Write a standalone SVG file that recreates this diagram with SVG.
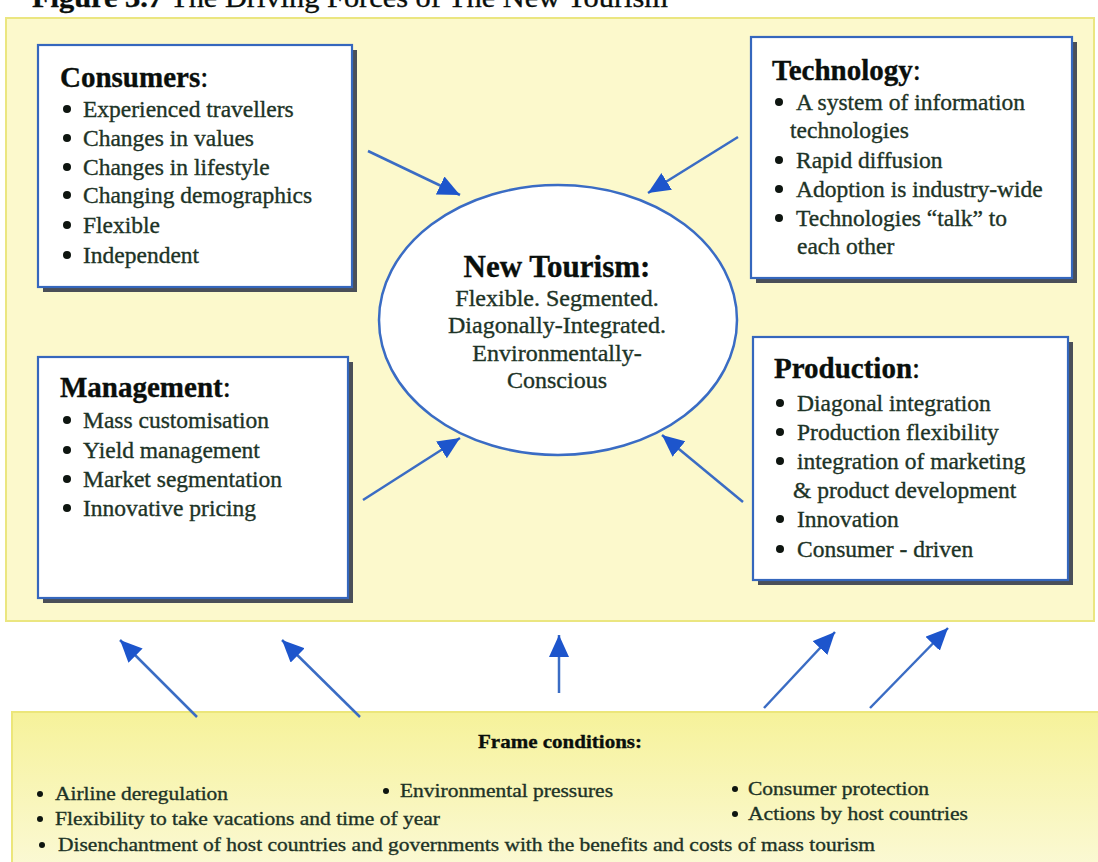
<svg xmlns="http://www.w3.org/2000/svg" width="1098" height="862" viewBox="0 0 1098 862">
<defs>
<style>
text{font-family:"Liberation Serif","Times New Roman",serif;fill:#1d3326;stroke:#1d3326;stroke-width:0.35}
.h{font-weight:bold;font-size:29px;fill:#0a0f0c;stroke:#0a0f0c}
.b{font-size:23.5px}
.e{font-size:24px;text-anchor:middle}
.f{font-size:19px}
.dot{fill:#0e1510}
.box{fill:#ffffff;stroke:#3567bd;stroke-width:2.2}
.sh{fill:#4a4f58}
.con{stroke:#3a6cc4;stroke-width:2.5;fill:none;marker-end:url(#ah)}
</style>
<marker id="ah" markerUnits="userSpaceOnUse" markerWidth="24" markerHeight="22" refX="22" refY="10" orient="auto">
<path d="M0,0 L22,10 L0,20 Z" fill="#1d55cc"/>
</marker>
<linearGradient id="fg" x1="0" y1="0" x2="0" y2="1">
<stop offset="0" stop-color="#f6f29a"/>
<stop offset="1" stop-color="#fbf9d6"/>
</linearGradient>
</defs>
<rect width="1098" height="862" fill="#ffffff"/>
<text x="32" y="7" font-size="27" textLength="636" lengthAdjust="spacingAndGlyphs" style="fill:#0a0f0c;stroke:#0a0f0c"><tspan font-weight="bold">Figure 3.7</tspan> The Driving Forces of The New Tourism</text>
<g id="panel">
<rect x="6" y="18" width="1088" height="603" fill="#fcf9cc" stroke="#ebe680" stroke-width="2"/>
</g>
<g id="frame">
<rect x="12" y="712" width="1090" height="160" fill="url(#fg)" stroke="#ece67a" stroke-width="2"/>
<text x="478" y="748" class="f" font-weight="bold" textLength="164" lengthAdjust="spacingAndGlyphs" style="fill:#0a0f0c;stroke:#0a0f0c">Frame conditions:</text>
<circle cx="40" cy="794" r="3" class="dot"/><text x="55" y="800" class="f" textLength="173" lengthAdjust="spacingAndGlyphs">Airline deregulation</text>
<circle cx="386" cy="791" r="3" class="dot"/><text x="400" y="797" class="f" textLength="213" lengthAdjust="spacingAndGlyphs">Environmental pressures</text>
<circle cx="735" cy="789" r="3" class="dot"/><text x="748" y="795" class="f" textLength="181" lengthAdjust="spacingAndGlyphs">Consumer protection</text>
<circle cx="40" cy="819" r="3" class="dot"/><text x="55" y="825" class="f" textLength="385" lengthAdjust="spacingAndGlyphs">Flexibility to take vacations and time of year</text>
<circle cx="735" cy="814" r="3" class="dot"/><text x="748" y="820" class="f" textLength="220" lengthAdjust="spacingAndGlyphs">Actions by host countries</text>
<circle cx="42" cy="845" r="3" class="dot"/><text x="58" y="851" class="f" textLength="817" lengthAdjust="spacingAndGlyphs">Disenchantment of host countries and governments with the benefits and costs of mass tourism</text>
</g>
<g id="consumers">
<rect x="43" y="50" width="314" height="242" class="sh"/>
<rect x="38" y="45" width="314" height="242" class="box"/>
<text x="60" y="87" class="h">Consumers<tspan style="font-weight:normal">:</tspan></text>
<circle cx="67" cy="109" r="4" class="dot"/><text x="83" y="117" class="b">Experienced travellers</text>
<circle cx="67" cy="138" r="4" class="dot"/><text x="83" y="146" class="b">Changes in values</text>
<circle cx="67" cy="167" r="4" class="dot"/><text x="83" y="175" class="b">Changes in lifestyle</text>
<circle cx="67" cy="195" r="4" class="dot"/><text x="83" y="203" class="b">Changing demographics</text>
<circle cx="67" cy="225" r="4" class="dot"/><text x="83" y="233" class="b">Flexible</text>
<circle cx="67" cy="255" r="4" class="dot"/><text x="83" y="263" class="b">Independent</text>
</g>
<g id="technology">
<rect x="756" y="42" width="321" height="241" class="sh"/>
<rect x="751" y="37" width="321" height="241" class="box"/>
<text x="772" y="80" class="h">Technology<tspan style="font-weight:normal">:</tspan></text>
<circle cx="779" cy="102" r="4" class="dot"/><text x="796" y="110" class="b">A system of information</text>
<text x="790" y="138" class="b">technologies</text>
<circle cx="779" cy="160" r="4" class="dot"/><text x="796" y="168" class="b">Rapid diffusion</text>
<circle cx="779" cy="189" r="4" class="dot"/><text x="796" y="197" class="b">Adoption is industry-wide</text>
<circle cx="779" cy="218" r="4" class="dot"/><text x="796" y="226" class="b">Technologies “talk” to</text>
<text x="797" y="254" class="b">each other</text>
</g>
<g id="management">
<rect x="43" y="362" width="310" height="241" class="sh"/>
<rect x="38" y="357" width="310" height="241" class="box"/>
<text x="60" y="397" class="h">Management<tspan style="font-weight:normal">:</tspan></text>
<circle cx="67" cy="420" r="4" class="dot"/><text x="83" y="428" class="b">Mass customisation</text>
<circle cx="67" cy="450" r="4" class="dot"/><text x="83" y="458" class="b">Yield management</text>
<circle cx="67" cy="479" r="4" class="dot"/><text x="83" y="487" class="b">Market segmentation</text>
<circle cx="67" cy="508" r="4" class="dot"/><text x="83" y="516" class="b">Innovative pricing</text>
</g>
<g id="production">
<rect x="758" y="342" width="315" height="243" class="sh"/>
<rect x="753" y="337" width="315" height="243" class="box"/>
<text x="774" y="378" class="h">Production<tspan style="font-weight:normal">:</tspan></text>
<circle cx="780" cy="403" r="4" class="dot"/><text x="797" y="411" class="b">Diagonal integration</text>
<circle cx="780" cy="432" r="4" class="dot"/><text x="797" y="440" class="b">Production flexibility</text>
<circle cx="780" cy="461" r="4" class="dot"/><text x="797" y="469" class="b">integration of marketing</text>
<text x="793" y="498" class="b">&amp; product development</text>
<circle cx="780" cy="519" r="4" class="dot"/><text x="797" y="527" class="b">Innovation</text>
<circle cx="780" cy="549" r="4" class="dot"/><text x="797" y="557" class="b">Consumer - driven</text>
</g>
<g id="newtourism">
<ellipse cx="558" cy="320" rx="179" ry="135" fill="#ffffff" stroke="#3a6cc4" stroke-width="2.5"/>
<text x="557" y="277" class="h" text-anchor="middle" style="font-size:31px">New Tourism:</text>
<text x="557" y="306" class="e">Flexible. Segmented.</text>
<text x="557" y="333" class="e">Diagonally-Integrated.</text>
<text x="557" y="361" class="e">Environmentally-</text>
<text x="557" y="388" class="e">Conscious</text>
</g>
<g id="connectors">
<line x1="368" y1="151" x2="460" y2="195" class="con"/>
<line x1="738" y1="137" x2="648" y2="193" class="con"/>
<line x1="363" y1="500" x2="460" y2="438" class="con"/>
<line x1="743" y1="502" x2="662" y2="435" class="con"/>
<line x1="197" y1="717" x2="120" y2="640" class="con"/>
<line x1="360" y1="717" x2="282" y2="640" class="con"/>
<line x1="559" y1="693" x2="559" y2="635" class="con"/>
<line x1="764" y1="708" x2="835" y2="632" class="con"/>
<line x1="870" y1="708" x2="948" y2="628" class="con"/>
</g>
</svg>
